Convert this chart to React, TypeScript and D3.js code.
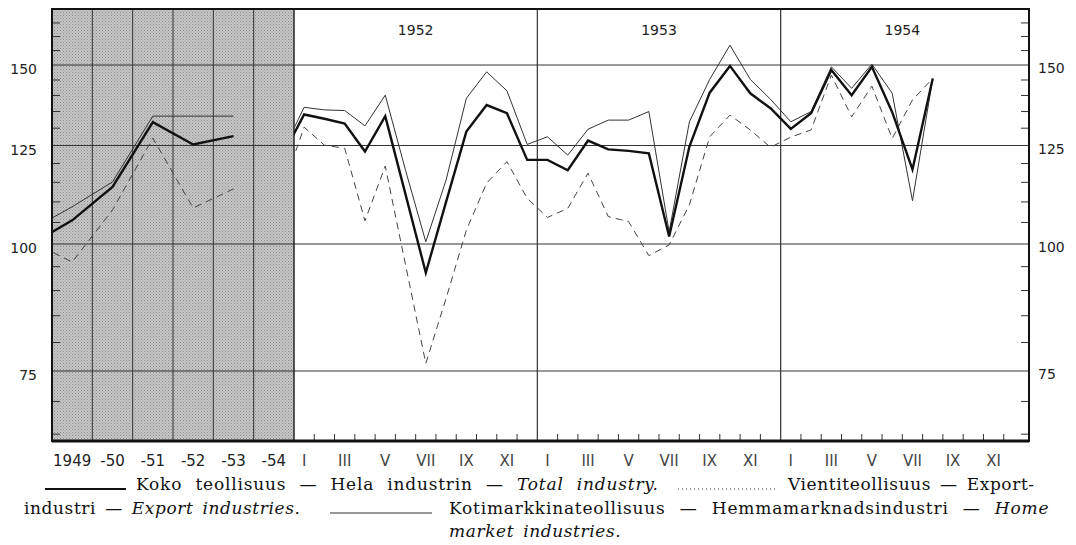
import * as d3 from 'd3'

// annual averages, 1948 is only there so the lines enter from the panel edge
const annualYears = [1948, 1949, 1950, 1951, 1952, 1953]
const annualLabels = ['1949', '-50', '-51', '-52', '-53', '-54']
const annualTotal = [100, 105.5, 113.8, 131.8, 125.3, 127.7]
const annualHome = [103.4, 108.8, 115.1, 133.6, 133.6, 133.6]
const annualExport = [100.5, 96, 108, 127.1, 108.5, 113.3]

// monthly values from Dec 1951 (hidden behind the panel edge) to Aug 1954
const monthlyTotal = [
  122.9,
  134.1, 132.8, 131.4, 123.3, 133.6, 111.9, 93.7, 110, 129, 137, 134.5, 121,
  121, 118.2, 126.4, 123.9, 123.5, 122.8, 101.7, 124.7, 140.9, 149.7, 140.7, 136,
  129.8, 134.5, 148.3, 140.1, 149.4, 134.8, 118.4, 145.5,
]
const monthlyHome = [
  124,
  136.3, 135.5, 135.3, 130.7, 140.1, 118.2, 100.5, 115.6, 139.1, 147.7, 141.5, 125.3,
  127.5, 122.3, 129.7, 132.4, 132.4, 135, 102.8, 131.9, 145.2, 156.9, 145.2, 138.8,
  131.9, 135, 149.4, 142.3, 150.3, 140.7, 110.3, 145.5,
]
const monthlyExport = [
  114.3,
  130.3, 125.1, 124.2, 105.4, 119.3, 95.4, 76.3, 88.4, 103.2, 114.8, 120.5, 110.9,
  106.2, 108.4, 117.4, 106.4, 105.2, 97.4, 99.8, 109.3, 127.5, 133.9, 129.5, 124.5,
  127.4, 129.5, 146.6, 133.4, 143, 127, 138.6, 145.5,
]

const panelYears = ['1952', '1953', '1954']
const monthLabels = ['I', '', 'III', '', 'V', '', 'VII', '', 'IX', '', 'XI', '']
const yGrid = [75, 100, 125, 150]
const yMinor = d3.range(65, 170, 5).filter((v) => !yGrid.includes(v))

const W = 1076
const H = 545
const left = 52
const split = 294
const right = 1029
const top = 9
const bottom = 441

const sans = { fontFamily: "'DejaVu Sans'" }
const serif = { fontFamily: "'DejaVu Serif'", fontSize: 17 }
const italic = { fontStyle: 'italic' }

const App = () => {
  const xYear = d3.scaleLinear().domain([1948.5, 1954.5]).range([left, split])
  const xMonth = d3.scaleLinear().domain([-0.5, 35.5]).range([split, 1024])
  const y = d3.scaleLog().domain([64, 170.3]).range([bottom, top])

  const yearLine = d3
    .line<number>()
    .x((_d, i) => xYear(annualYears[i]))
    .y((d) => y(d))
  const monthLine = d3
    .line<number>()
    .x((_d, i) => xMonth(i - 1))
    .y((d) => y(d))

  const yearBounds = d3.range(1949.5, 1954, 1)
  const monthTicks = d3.range(0, 35).filter((i) => i !== 11 && i !== 23)

  return (
    <svg
      width={W}
      height={H}
      style={{ position: 'absolute', left: 0, top: 0, background: '#fff' }}
    >
      <defs>
        <pattern id="stipple" width={3} height={3} patternUnits="userSpaceOnUse">
          <rect width={3} height={3} fill="#c6c6c6" />
          <rect x={0} y={0} width={1} height={1} fill="#8c8c8c" />
          <rect x={1.5} y={1.5} width={1} height={1} fill="#999" />
        </pattern>
        <clipPath id="clipYear">
          <rect x={left} y={top} width={split - left} height={bottom - top} />
        </clipPath>
        <clipPath id="clipMonth">
          <rect x={split} y={top} width={right - split} height={bottom - top} />
        </clipPath>
      </defs>

      <rect x={left} y={top} width={split - left} height={bottom - top} fill="url(#stipple)" />

      {/* grid */}
      {yGrid.map((v) => (
        <line key={v} x1={left} x2={right} y1={y(v)} y2={y(v)} stroke="#333" strokeWidth={1} />
      ))}
      {yearBounds.map((b) => (
        <line key={b} x1={xYear(b)} x2={xYear(b)} y1={top} y2={bottom} stroke="#333" strokeWidth={1} />
      ))}
      {[11.5, 23.5].map((b) => (
        <line key={b} x1={xMonth(b)} x2={xMonth(b)} y1={top} y2={bottom} stroke="#333" strokeWidth={1.2} />
      ))}
      <line x1={split} x2={split} y1={top} y2={bottom} stroke="#222" strokeWidth={1.5} />

      {/* minor ticks */}
      {yMinor.map((v) => (
        <g key={v} stroke="#333" strokeWidth={1}>
          <line x1={left} x2={left + 8} y1={y(v)} y2={y(v)} />
          <line x1={right - 8} x2={right} y1={y(v)} y2={y(v)} />
        </g>
      ))}
      {monthTicks.map((i) => (
        <line key={i} x1={xMonth(i + 0.5)} x2={xMonth(i + 0.5)} y1={bottom} y2={bottom - 7} stroke="#333" />
      ))}

      {/* series */}
      <g clipPath="url(#clipYear)" fill="none" strokeLinejoin="miter">
        <path d={yearLine(annualHome) ?? ''} stroke="#333" strokeWidth={1} />
        <path d={yearLine(annualExport) ?? ''} stroke="#444" strokeWidth={1} strokeDasharray="7,5" />
        <path d={yearLine(annualTotal) ?? ''} stroke="#111" strokeWidth={2.4} />
      </g>
      <g clipPath="url(#clipMonth)" fill="none" strokeLinejoin="miter">
        <path d={monthLine(monthlyHome) ?? ''} stroke="#333" strokeWidth={1} />
        <path d={monthLine(monthlyExport) ?? ''} stroke="#444" strokeWidth={1} strokeDasharray="7,5" />
        <path d={monthLine(monthlyTotal) ?? ''} stroke="#111" strokeWidth={2.4} />
      </g>

      {/* frame */}
      <rect x={left} y={top} width={right - left} height={bottom - top} fill="none" stroke="#111" strokeWidth={2} />
      <line x1={left} x2={right} y1={bottom} y2={bottom} stroke="#111" strokeWidth={3} />

      {/* labels */}
      {yGrid.map((v) => (
        <g key={v}>
          <text x={37} y={y(v) + 9} textAnchor="end" fontSize={14} fill="#222" style={sans}>{v}</text>
          <text x={1038} y={y(v) + 8} fontSize={14} fill="#222" style={sans}>{v}</text>
        </g>
      ))}
      {panelYears.map((yr, i) => (
        <text key={yr} x={xMonth(i * 12 + 5.5)} y={35} textAnchor="middle" fontSize={14} fill="#222" style={sans}>
          {yr}
        </text>
      ))}
      {annualLabels.map((lb, i) => (
        <text key={lb} x={xYear(1949 + i)} y={466} textAnchor="middle" fontSize={15} fill="#222" style={sans}>
          {lb}
        </text>
      ))}
      {d3.range(0, 36).map((i) =>
        monthLabels[i % 12] ? (
          <text key={i} x={xMonth(i)} y={466} textAnchor="middle" fontSize={15} fill="#444" style={sans}>
            {monthLabels[i % 12]}
          </text>
        ) : null
      )}

      {/* legend */}
      <line x1={45} x2={126} y1={489} y2={489} stroke="#111" strokeWidth={2} />
      <text x={136} y={490} fill="#111" style={{ ...serif, letterSpacing: 0.8, wordSpacing: 7 }}>
        Koko teollisuus — Hela industrin — <tspan style={italic}>Total industry.</tspan>
      </text>
      <line x1={678} x2={775} y1={489} y2={489} stroke="#333" strokeWidth={1} strokeDasharray="1,3" />
      <text x={788} y={490} fill="#111" style={{ ...serif, letterSpacing: 0.6, wordSpacing: 3 }}>
        Vientiteollisuus — Export-
      </text>
      <text x={24} y={514} fill="#111" style={{ ...serif, letterSpacing: 0.6, wordSpacing: 3 }}>
        industri — <tspan style={italic}>Export industries.</tspan>
      </text>
      <line x1={330} x2={432} y1={513} y2={513} stroke="#333" strokeWidth={1} />
      <text x={449} y={514} fill="#111" style={{ ...serif, letterSpacing: 0.8, wordSpacing: 8 }}>
        Kotimarkkinateollisuus — Hemmamarknadsindustri — <tspan style={italic}>Home</tspan>
      </text>
      <text x={449} y={537} fill="#111" style={{ ...serif, ...italic, letterSpacing: 0.6, wordSpacing: 3 }}>
        market industries.
      </text>
    </svg>
  )
}

export default App
